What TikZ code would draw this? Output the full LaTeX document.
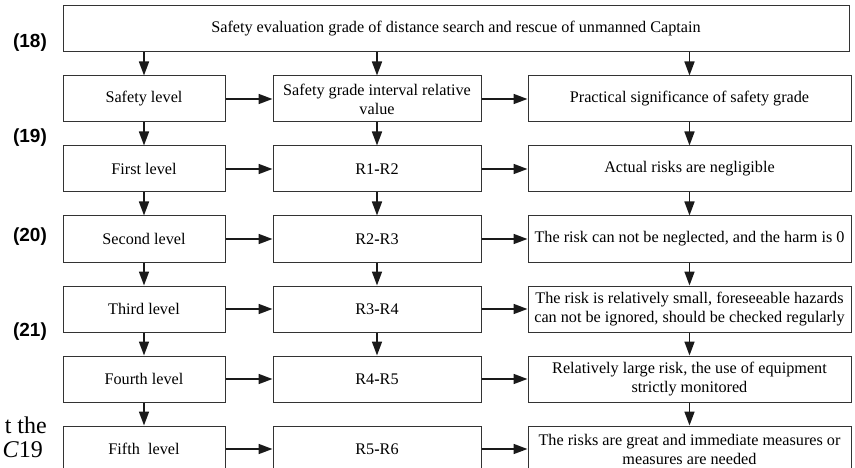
\documentclass[tikz,border=0pt]{standalone}
\usepackage{fontspec}
\setmainfont{Liberation Serif}
\newfontfamily\eqfont{Liberation Sans}
\usetikzlibrary{arrows.meta,positioning}
\definecolor{bLine}{HTML}{333333}
\definecolor{aLine}{HTML}{1A1A1A}
\tikzset{
  >=Stealth,
  box/.style ={rectangle,draw=bLine,line width=1pt,align=center,inner sep=1pt,minimum height=46pt,font=\fontsize{16.2}{19}\selectfont},
  lvl/.style ={box,minimum width=162pt},
  rng/.style ={box,minimum width=208pt},
  sig/.style ={box,minimum width=323pt},
  flow/.style={-{Triangle[length=14pt,width=10pt]},line width=1.6pt,aLine},
  eqno/.style={font=\eqfont\bfseries\fontsize{19}{19}\selectfont,inner sep=0pt},
  cut/.style ={font=\fontsize{24}{24}\selectfont,inner sep=0pt},
}

\begin{document}
\begin{tikzpicture}[x=1pt,y=1pt,node distance=23pt and 47pt]
  \useasboundingbox (0,0) rectangle (855,-468);
  \node[box,minimum width=786pt] (head) at (456,-29)
        {Safety evaluation grade of distance search and rescue of unmanned Captain};
  \node[lvl] (lvl0) at (144,-99) {Safety level};
  \node[rng,right=of lvl0] (rng0) {Safety grade interval relative\\value};
  \node[sig,right=46pt of rng0] (sig0) {Practical significance of safety grade};
  \node[lvl,below=of lvl0] (lvl1) {First level};
  \node[rng,below=of rng0] (rng1) {R1\textbf{-}R2};
  \node[sig,below=of sig0] (sig1) {Actual risks are negligible};
  \node[lvl,below=of lvl1] (lvl2) {Second level};
  \node[rng,below=of rng1] (rng2) {R2\textbf{-}R3};
  \node[sig,below=of sig1] (sig2) {The risk can not be neglected, and the harm is 0};
  \node[lvl,below=of lvl2] (lvl3) {Third level};
  \node[rng,below=of rng2] (rng3) {R3\textbf{-}R4};
  \node[sig,below=of sig2] (sig3) {The risk is relatively small, foreseeable hazards\\can not be ignored, should be checked regularly};
  \node[lvl,below=of lvl3] (lvl4) {Fourth level};
  \node[rng,below=of rng3] (rng4) {R4\textbf{-}R5};
  \node[sig,below=of sig3] (sig4) {Relatively large risk, the use of equipment\\strictly monitored};
  \node[lvl,below=of lvl4] (lvl5) {Fifth\ \ level};
  \node[rng,below=of rng4] (rng5) {R5\textbf{-}R6};
  \node[sig,below=of sig4] (sig5) {The risks are great and immediate measures or\\measures are needed};

  \draw[flow] (head.south -| lvl0) -- (lvl0);
  \draw[flow] (head.south -| rng0) -- (rng0);
  \draw[flow] (head.south -| sig0) -- (sig0);
  \draw[flow] (lvl0) -- (rng0);
  \draw[flow] (rng0) -- (sig0);
  \draw[flow] (lvl1) -- (rng1);
  \draw[flow] (rng1) -- (sig1);
  \draw[flow] (lvl2) -- (rng2);
  \draw[flow] (rng2) -- (sig2);
  \draw[flow] (lvl3) -- (rng3);
  \draw[flow] (rng3) -- (sig3);
  \draw[flow] (lvl4) -- (rng4);
  \draw[flow] (rng4) -- (sig4);
  \draw[flow] (lvl5) -- (rng5);
  \draw[flow] (rng5) -- (sig5);
  \draw[flow] (lvl0) -- (lvl1);
  \draw[flow] (lvl1) -- (lvl2);
  \draw[flow] (lvl2) -- (lvl3);
  \draw[flow] (lvl3) -- (lvl4);
  \draw[flow] (lvl4) -- (lvl5);
  \draw[flow] (rng0) -- (rng1);
  \draw[flow] (rng1) -- (rng2);
  \draw[flow] (rng2) -- (rng3);
  \draw[flow] (rng3) -- (rng4);
  \draw[flow] (sig0) -- (sig1);
  \draw[flow] (sig1) -- (sig2);
  \draw[flow] (sig2) -- (sig3);
  \draw[flow] (sig3) -- (sig4);
  \draw[flow] (sig4) -- (sig5);

  \node[eqno] (eq18) at (30,-43) {(18)};
  \node[eqno] (eq19) at (30,-138) {(19)};
  \node[eqno] (eq20) at (30,-237) {(20)};
  \node[eqno] (eq21) at (30,-332) {(21)};
  \node[cut,anchor=base east] (frag1) at (47,-433) {t the};
  \node[cut,anchor=base east] (frag2) at (43,-457) {\textit{C}19};
\end{tikzpicture}
\end{document}
